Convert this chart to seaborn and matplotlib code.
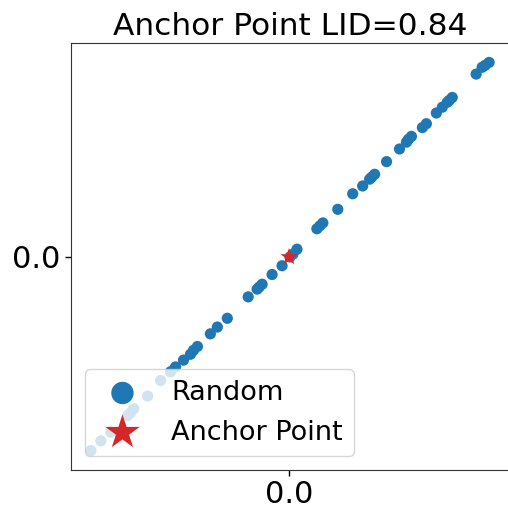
import matplotlib
matplotlib.use("Agg")
import matplotlib.pyplot as plt
import seaborn as sns
import numpy as np
import pandas as pd

# Random points, lying along the diagonal
x_vals = [1.005, 0.985, 0.97, 0.94, 0.82, 0.805, 0.795, 0.77, 0.74, 0.69, 0.67, 0.615,
          0.6, 0.59, 0.555, 0.49, 0.43, 0.415, 0.405, 0.37, 0.32, 0.245, 0.17, 0.155,
          0.14, 0.04, 0.02, 0.005, -0.035, -0.085, -0.135, -0.15, -0.16, -0.205, -0.31,
          -0.36, -0.395, -0.46, -0.48, -0.495, -0.53, -0.57, -0.595, -0.645, -0.71,
          -0.78, -0.795, -0.81, -0.895, -0.945, -0.995]
y_vals = [1.0, 0.985, 0.975, 0.94, 0.82, 0.805, 0.795, 0.77, 0.74, 0.685, 0.665, 0.62,
          0.605, 0.59, 0.555, 0.49, 0.425, 0.41, 0.4, 0.365, 0.325, 0.245, 0.175, 0.16,
          0.145, 0.04, 0.015, 0.0, -0.045, -0.09, -0.14, -0.155, -0.165, -0.205, -0.315,
          -0.36, -0.395, -0.46, -0.48, -0.5, -0.53, -0.565, -0.59, -0.635, -0.715,
          -0.78, -0.8, -0.815, -0.9, -0.945, -0.995]
anchor_x = [0.0]
anchor_y = [0.0]
title = "Anchor Point LID=0.84"
tick_labels = ["0.0"]

df = pd.DataFrame({"x": x_vals, "y": y_vals})
adf = pd.DataFrame({"x": anchor_x, "y": anchor_y})

sns.set_style("white")
plt.rcParams['font.family'] = ['DejaVu Sans']
plt.rcParams['text.color'] = 'black'
plt.rcParams['xtick.color'] = 'black'
plt.rcParams['ytick.color'] = 'black'

fig = plt.figure(figsize=(5.08, 5.05), dpi=100)
ax = fig.add_axes([71/508, 1 - 470/505, 438/508, 427/505])

sns.scatterplot(data=df, x="x", y="y", ax=ax, color="#1f77b4", s=65,
                edgecolor="none", label="Random", zorder=2)
sns.scatterplot(data=adf, x="x", y="y", ax=ax, color="#d62728", marker="*", s=170,
                edgecolor="none", label="Anchor Point", zorder=3)

ax.set_xticks([0.0])
ax.set_yticks([0.0])
ax.set_xticklabels(tick_labels, fontsize=22)
ax.set_yticklabels(tick_labels, fontsize=22)
ax.tick_params(axis="both", length=4, width=1, colors="black", bottom=True, left=True)
ax.set_xlabel("")
ax.set_ylabel("")
ax.set_title(title, fontsize=22.5, color="black")
for sp in ax.spines.values():
    sp.set_color("#333333")

leg = ax.legend(loc="lower left", fontsize=19.5, markerscale=2, framealpha=0.8)
for t in leg.get_texts():
    t.set_color("black")

fig.savefig("out.png", dpi=100)
